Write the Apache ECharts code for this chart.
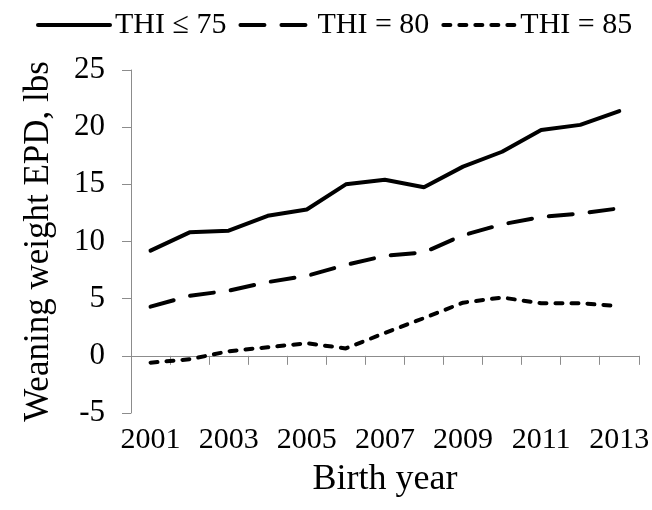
<!DOCTYPE html>
<html>
<head>
<meta charset="utf-8">
<script src="https://cdn.jsdelivr.net/npm/echarts@6/dist/echarts.min.js"></script>
<style>html,body{margin:0;padding:0;background:#fff}#c{width:652px;height:510px}</style>
</head>
<body>
<div id="c"></div>
<script>
const years = ['2001','2002','2003','2004','2005','2006','2007','2008','2009','2010','2011','2012','2013'];
const thi75 = [9.2, 10.8, 10.95, 12.25, 12.8, 15.0, 15.4, 14.75, 16.55, 17.85, 19.75, 20.2, 21.4];
const thi80 = [4.3, 5.25, 5.7, 6.45, 7.0, 7.95, 8.75, 9.05, 10.55, 11.5, 12.15, 12.45, 12.9];
const thi85 = [-0.6, -0.3, 0.4, 0.75, 1.1, 0.65, 2.0, 3.3, 4.65, 5.1, 4.6, 4.6, 4.35];
const seriesNames = ['THI \u2264 75', 'THI = 80', 'THI = 85'];
const yTicks = { min: -5, max: 25, step: 5 };

const FONT = 'Liberation Serif, Times New Roman, serif';
const axisGray = '#8c8c8c';
const chart = echarts.init(document.getElementById('c'), null, { renderer: 'canvas' });
function mk(name, data, type) {
  return {
    name: name, type: 'line', data: data, symbol: 'none',
    lineStyle: { color: '#000', width: 4, type: type, cap: 'round' },
    itemStyle: { color: '#000' }
  };
}
chart.setOption({
  animation: false,
  textStyle: { fontFamily: FONT, color: '#000' },
  legend: {
    top: 10, left: 36, width: 616, padding: 0, itemWidth: 72, itemHeight: 6, itemGap: 12,
    itemStyle: { opacity: 0 },
    lineStyle: { width: 4, type: 'inherit', color: '#000' },
    textStyle: { fontFamily: FONT, fontSize: 30, color: '#000' },
    data: seriesNames
  },
  grid: { left: 131, right: 6, top: 70, bottom: 97, containLabel: false },
  xAxis: {
    type: 'category', data: years, boundaryGap: true,
    name: 'Birth year', nameLocation: 'middle', nameGap: 49,
    nameTextStyle: { fontFamily: FONT, fontSize: 36, color: '#000' },
    axisLine: { lineStyle: { color: axisGray, width: 1 } },
    axisTick: { show: true, length: 9, interval: 0, alignWithLabel: false, lineStyle: { color: axisGray } },
    axisLabel: { interval: 1, margin: 12, fontFamily: FONT, fontSize: 30, color: '#000' },
    splitLine: { show: false }
  },
  yAxis: {
    type: 'value', min: yTicks.min, max: yTicks.max, interval: yTicks.step,
    name: 'Weaning weight EPD, lbs', nameLocation: 'middle', nameGap: 75,
    nameTextStyle: { fontFamily: FONT, fontSize: 35, color: '#000' },
    axisLine: { show: true, lineStyle: { color: axisGray, width: 1 } },
    axisTick: { show: true, length: 9, lineStyle: { color: axisGray } },
    axisLabel: { margin: 26, fontFamily: FONT, fontSize: 31, color: '#000' },
    splitLine: { show: false }
  },
  series: [
    mk(seriesNames[0], thi75, 'solid'),
    mk(seriesNames[1], thi80, [24, 17]),
    mk(seriesNames[2], thi85, [7, 9])
  ]
});
</script>
</body>
</html>
